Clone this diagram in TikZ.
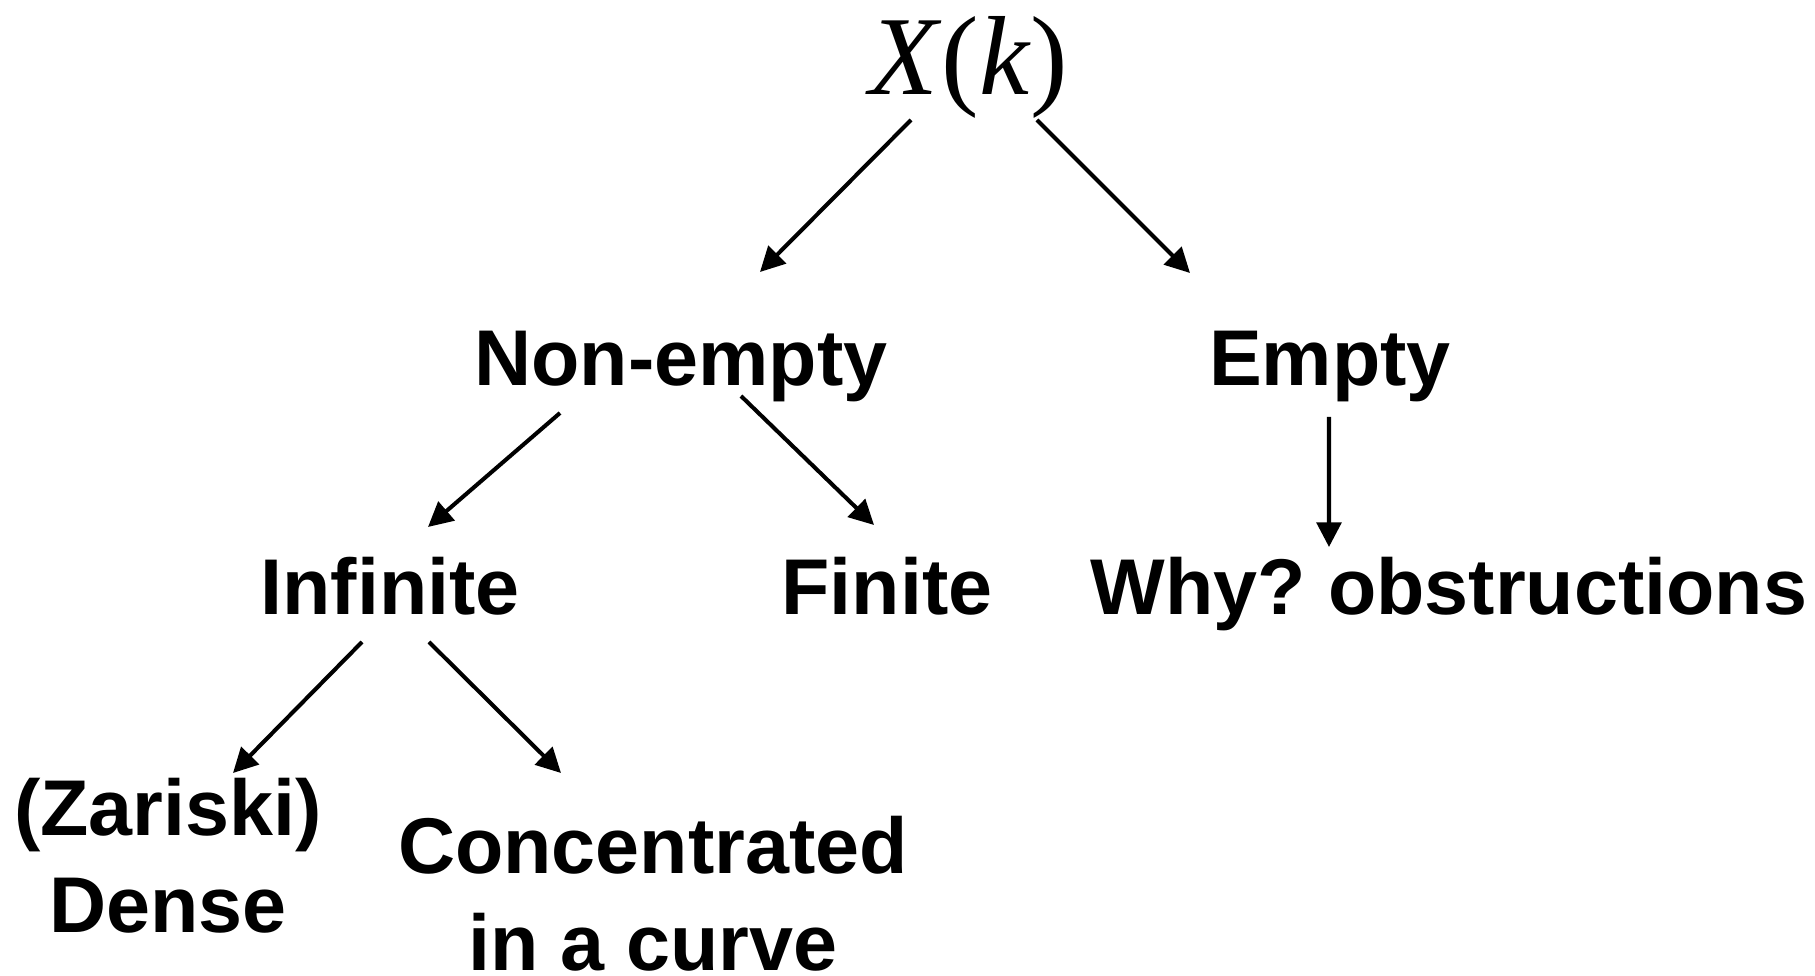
\documentclass[tikz,border=0pt]{standalone}
\usepackage{fontspec}
\setmainfont{Liberation Sans}
\newfontfamily\timesfont{Liberation Serif}
\usetikzlibrary{arrows.meta,calc}

\begin{document}
\begin{tikzpicture}[
    casenode/.style={
        anchor=base,
        inner sep=0pt,
        align=center,
        font=\fontsize{22.5}{26.5}\selectfont\bfseries
    },
    branch/.style={
        -{Triangle[length=7pt,width=7pt]},
        line width=1.15pt
    }
]
    \useasboundingbox (0,0) rectangle (18.15,9.76);

    % --- ROOT ---
    \node[anchor=base, inner sep=0pt, font=\fontsize{32}{36}\selectfont\timesfont] (xk) at (9.69, 8.81) {\itshape X\/\upshape(\itshape k\/\upshape)};

    % --- FIRST SPLIT ---
    \node[casenode] (nonempty) at (6.81, 5.90) {Non-empty};
    \node[casenode] (empty) at (13.30, 5.90) {Empty};

    \draw[branch] ($(xk.base)+(-0.58,-0.25)$) -- ($(nonempty.base)+(0.79,1.14)$);
    \draw[branch] ($(xk.base)+(0.68,-0.25)$) -- ($(empty.base)+(-1.40,1.13)$);

    % --- SECOND SPLIT ---
    \node[casenode] (infinite) at (3.90, 3.61) {Infinite};
    \node[casenode] (finite) at (8.87, 3.61) {Finite};
    \node[casenode] (why) at (14.49, 3.61) {Why?\ obstructions};

    \draw[branch] ($(nonempty.base)+(-1.21,-0.27)$) -- ($(infinite.base)+(0.38,0.88)$);
    \draw[branch] ($(nonempty.base)+(0.60,-0.10)$) -- ($(finite.base)+(-0.13,0.90)$);
    \draw[branch] ($(empty.base)+(-0.01,-0.31)$) -- ($(why.base)+(-1.20,0.68)$);

    % --- INFINITE CASE ---
    \node[casenode] (dense) at (1.68, 0.43) {(Zariski)\\[1.2pt]Dense};
    \node[casenode] (curve) at (6.53, 0.05) {Concentrated\\[1.2pt]in a curve};

    \draw[branch] ($(infinite.base)+(-0.28,-0.27)$) -- ($(dense.base)+(0.65,1.60)$);
    \draw[branch] ($(infinite.base)+(0.39,-0.27)$) -- ($(curve.base)+(-0.92,1.98)$);
\end{tikzpicture}
\end{document}
